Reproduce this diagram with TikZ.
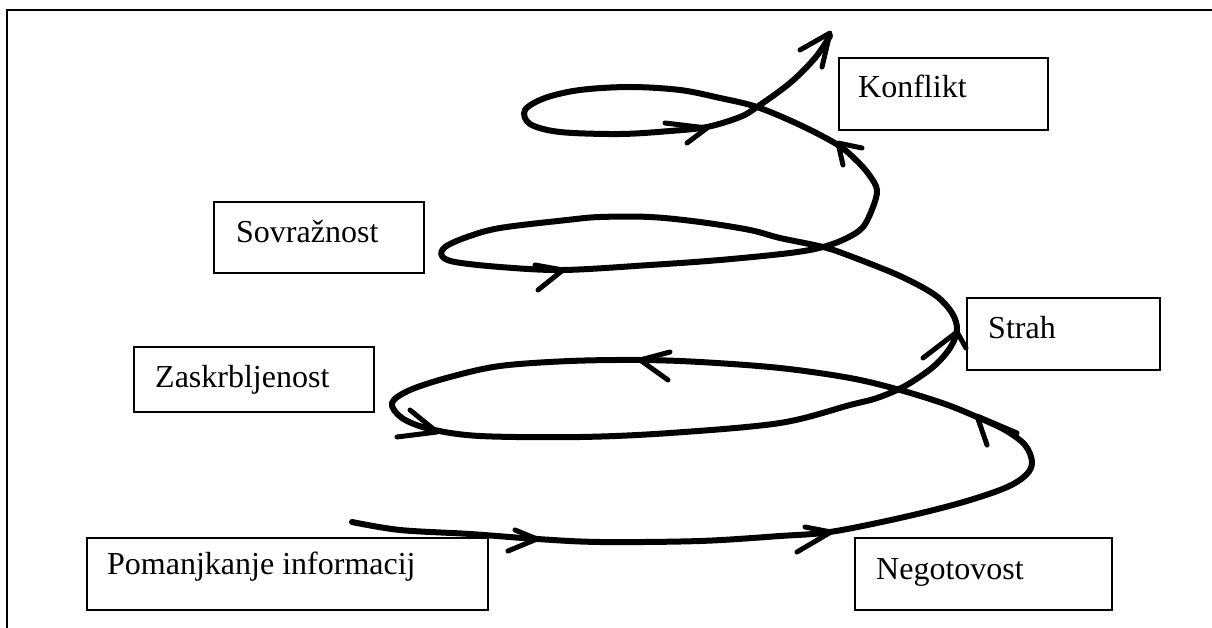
\documentclass[tikz,border=0pt]{standalone}
\usepackage{fontspec}
\setmainfont{Liberation Serif}
\begin{document}
\begin{tikzpicture}[x=1pt,y=-1pt,
  frame/.style={line width=2.5pt},
  box/.style={draw, line width=1.6pt, inner sep=0pt, outer sep=0pt, anchor=north west},
  lbl/.style={font=\fontsize{32}{38}\selectfont, inner sep=0pt, anchor=base west},
  spiral/.style={line width=6pt, line cap=round, line join=round},
  barb/.style={line width=5pt, line cap=round, line join=round}]
\useasboundingbox (0,0) rectangle (1212,628);
\fill[white] (0,0) rectangle (1212,628);
% frame (top and left edges only)
\coordinate (fbl) at (7,630);
\coordinate (ftl) at (7,10);
\coordinate (ftr) at (1214,10);
\draw[frame] (fbl) -- (ftl) -- (ftr);
% boxes
\node[box, minimum width=209pt, minimum height=72pt] (konflikt) at (839,58) {};
\node[lbl] (konfliktT) at (858,98) {Konflikt};
\node[box, minimum width=210pt, minimum height=71pt] (sovraz) at (214,202) {};
\node[lbl] (sovrazT) at (236,243) {Sovražnost};
\node[box, minimum width=193pt, minimum height=72pt] (strah) at (967,298) {};
\node[lbl] (strahT) at (988,338) {Strah};
\node[box, minimum width=240pt, minimum height=65pt] (zask) at (134,347) {};
\node[lbl] (zaskT) at (155,387) {Zaskrbljenost};
\node[box, minimum width=401pt, minimum height=72pt] (pom) at (87,538) {};
\node[lbl] (pomT) at (107,574) {Pomanjkanje informacij};
\node[box, minimum width=257pt, minimum height=72pt] (neg) at (855,538) {};
\node[lbl] (negT) at (876,579) {Negotovost};
% spiral
\draw[spiral] plot[smooth, tension=0.55] coordinates {
 (352,522) (400,530) (470,534) (537,539) (600,542) (700,541) (780,536)
 (830,532) (900,518) (960,503) (1005,488) (1026,475) (1032,462) (1025,445)
 (1005,430) (977,417) (945,404) (900,390) (850,378) (780,368) (700,362)
 (640,360) (570,361) (500,366) (450,377) (410,390) (392,403) (402,418)
 (430,429) (480,436) (580,437) (670,433) (780,423) (850,405) (877,398)
 (905,386) (933,367) (950,348) (957,330) (952,313) (935,295) (900,276)
 (850,256) (823,247) (780,238) (750,230) (700,222) (650,217) (600,217)
 (567,220) (500,228) (467,237) (445,247) (442,256) (455,262) (500,267)
 (563,270) (650,265) (720,260) (790,253) (823,247) (847,238) (863,227)
 (873,207) (877,190) (870,176) (858,162) (838,145) (800,125) (757,107)
 (720,98) (680,90) (630,87) (580,90) (545,98) (525,110) (530,124)
 (560,132) (620,134) (670,131) (707,127) (740,117) (757,107) (790,83)
 (815,58) (830,36)};
% arrowheads
\draw[barb] (515,530) -- (537,539) -- (508,551);
\draw[barb] (805,527) -- (831,532) -- (797,552);
\draw[barb] (987,445) -- (977,416) -- (1017,433);
\draw[barb] (670,352) -- (640,360) -- (668,380);
\draw[barb] (410,410) -- (437,432) -- (397,437);
\draw[barb] (923,358) -- (957,332) -- (966,348);
\draw[barb] (535,265) -- (563,270) -- (538,290);
\draw[barb] (843,165) -- (838,143) -- (862,148);
\draw[barb] (665,123) -- (707,128) -- (687,143);
\draw[barb] (800,50) -- (830,33) -- (822,67);
\end{tikzpicture}
\end{document}
